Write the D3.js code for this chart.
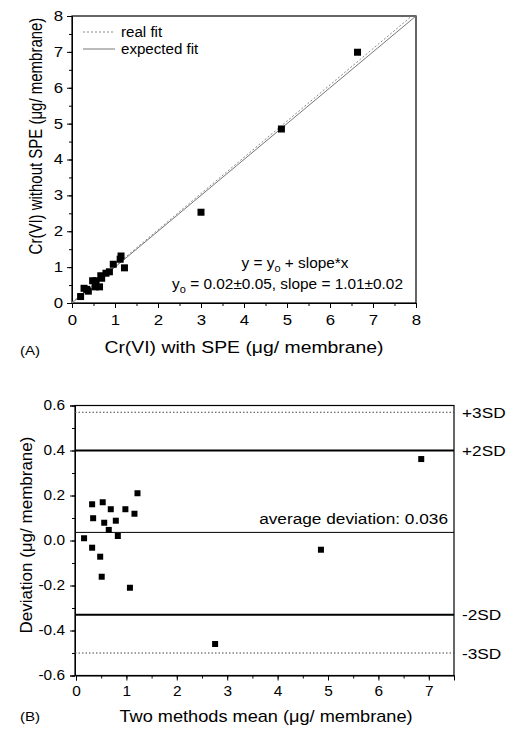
<!DOCTYPE html>
<html><head><meta charset="utf-8">
<script src="https://cdn.jsdelivr.net/npm/d3@7"></script>
<style>body{margin:0;background:#fff}svg{display:block;font-family:"Liberation Sans",Arial,sans-serif}</style>
</head><body>
<script>
// Panel A data
const topX = [0.20,0.28,0.34,0.38,0.48,0.56,0.54,0.64,0.67,0.69,0.79,0.87,0.96,1.14,1.12,1.22,3.00,4.87,6.64];
const topY = [0.18,0.41,0.38,0.33,0.62,0.62,0.45,0.45,0.76,0.69,0.83,0.87,1.08,1.31,1.22,0.98,2.53,4.85,6.99];
const topTicks = [0,1,2,3,4,5,6,7,8];
const fitIntercept = 0.02, fitSlope = 1.01;
// Panel B data
const botX = [0.16,0.32,0.48,0.51,1.07,0.32,0.34,0.53,0.56,0.69,0.65,0.79,0.83,0.98,1.16,1.22,2.76,4.86,6.85];
const botY = [0.01,-0.032,-0.072,-0.161,-0.21,0.161,0.099,0.17,0.079,0.139,0.047,0.088,0.02,0.139,0.119,0.21,-0.46,-0.041,0.362];
const botXTicks = [0,1,2,3,4,5,6,7];
const botYTicks = [-0.6,-0.4,-0.2,0.0,0.2,0.4,0.6];
const refValues = [0.57,0.40,0.036,-0.33,-0.50];
const refLabels = ["+3SD","+2SD","","-2SD","-3SD"];
const refStyles = ["dot","thick","thin","thick","dot"];

const SX = 1.15;
const svg = d3.select("body").append("svg").attr("width",510).attr("height",738);

function minorTicks(lo,hi,step){const a=[];for(let v=lo;v<=hi+1e-9;v+=step)a.push(+v.toFixed(4));return a;}
function label(parent,x,y,size,anchor,rot,sx){
  const g = parent.append("g").attr("transform",`translate(${x},${y}) scale(${sx||SX},1)`+(rot?` rotate(${rot})`:""));
  return g.append("text").attr("font-size",size).attr("text-anchor",anchor||"start").attr("fill","#000");
}
function stretchTicks(ax,sx){
  ax.selectAll(".tick text").each(function(){
    const t=d3.select(this);
    const x=+t.attr("x")||0;
    t.attr("transform",`scale(${sx},1)`).attr("x",x/sx);
  });
}

// ---------- Panel A ----------
const xA = d3.scaleLinear().domain([0,8]).range([72,416]);
const yA = d3.scaleLinear().domain([0,8]).range([303,16]);
const gA = svg.append("g");
gA.append("g").attr("transform","translate(0,303)")
  .call(d3.axisBottom(xA).tickValues(minorTicks(0,8,0.5)).tickSize(3).tickFormat(""))
  .call(g=>g.select(".domain").remove());
gA.append("g").attr("transform","translate(72,0)")
  .call(d3.axisLeft(yA).tickValues(minorTicks(0,8,0.5)).tickSize(3).tickFormat(""))
  .call(g=>g.select(".domain").remove());
const axA_x = gA.append("g").attr("transform","translate(0,303)")
  .call(d3.axisBottom(xA).tickValues(topTicks).tickSize(5).tickPadding(7).tickFormat(d3.format("d")));
const axA_y = gA.append("g").attr("transform","translate(72,0)")
  .call(d3.axisLeft(yA).tickValues(topTicks).tickSize(5).tickPadding(4).tickFormat(d3.format("d")));
[axA_x,axA_y].forEach(a=>{a.selectAll("text").attr("font-size",14).attr("fill","#000");stretchTicks(a,1.2);});
gA.append("rect").attr("x",72).attr("y",16).attr("width",416-72).attr("height",303-16)
  .attr("fill","none").attr("stroke","#000").attr("stroke-width",1.2);
gA.append("line").attr("x1",xA(0)).attr("y1",yA(0)).attr("x2",xA(8)).attr("y2",yA(8))
  .attr("stroke","#777").attr("stroke-width",1);
const xEnd = (8-fitIntercept)/fitSlope;
gA.append("line").attr("x1",xA(0)).attr("y1",yA(fitIntercept)).attr("x2",xA(xEnd)).attr("y2",yA(8))
  .attr("stroke","#888").attr("stroke-width",1).attr("stroke-dasharray","2,2");
gA.selectAll("rect.pt").data(topX.map((x,i)=>[x,topY[i]])).join("rect").attr("class","pt")
  .attr("x",d=>xA(d[0])-3.5).attr("y",d=>yA(d[1])-3.5).attr("width",7).attr("height",7).attr("fill","#000");
// legend
gA.append("line").attr("x1",83).attr("x2",115).attr("y1",32).attr("y2",32).attr("stroke","#888").attr("stroke-dasharray","2,2");
label(gA,121,37,14,"start",0,1.08).text("real fit");
gA.append("line").attr("x1",83).attr("x2",115).attr("y1",49).attr("y2",49).attr("stroke","#777");
label(gA,121,54,14,"start",0,1.08).text("expected fit");
// equation
const eq1 = label(gA,295,268,14,"middle",0,1.1);
eq1.append("tspan").text("y = y");
eq1.append("tspan").attr("font-size",10).attr("dy",4).text("o");
eq1.append("tspan").attr("dy",-4).text(" + slope*x");
const eq2 = label(gA,403,289,14,"end",0,1.1);
eq2.append("tspan").text("y");
eq2.append("tspan").attr("font-size",10).attr("dy",4).text("o");
eq2.append("tspan").attr("dy",-4).text(" = 0.02±0.05, slope = 1.01±0.02");
// titles
label(gA,42,136,15,"middle",-90,1.2).text("Cr(VI) without SPE (μg/ membrane)");
label(gA,244,353,17,"middle",0,1.14).text("Cr(VI) with SPE (μg/ membrane)");
label(gA,20,355,13.5,"start",0,1.12).text("(A)");

// ---------- Panel B ----------
const xB = d3.scaleLinear().domain([0,7.5]).range([76,454]);
const yB = d3.scaleLinear().domain([-0.6,0.6]).range([675.5,405.5]);
const gB = svg.append("g");
gB.append("g").attr("transform","translate(0,675.5)")
  .call(d3.axisBottom(xB).tickValues(minorTicks(0,7.5,0.5)).tickSize(3).tickFormat(""))
  .call(g=>g.select(".domain").remove());
gB.append("g").attr("transform","translate(75,0)")
  .call(d3.axisLeft(yB).tickValues(minorTicks(-0.6,0.6,0.1)).tickSize(3).tickFormat(""))
  .call(g=>g.select(".domain").remove());
const axB_x = gB.append("g").attr("transform","translate(0,675.5)")
  .call(d3.axisBottom(xB).tickValues(botXTicks).tickSize(5).tickPadding(6).tickFormat(d3.format("d")));
const axB_y = gB.append("g").attr("transform","translate(75,0)")
  .call(d3.axisLeft(yB).tickValues(botYTicks).tickSize(5).tickPadding(5).tickFormat(d=>d3.format(".1f")(d).replace("−","-")));
[axB_x,axB_y].forEach(a=>{a.selectAll("text").attr("font-size",14).attr("fill","#000");stretchTicks(a,1.1);});
gB.append("rect").attr("x",75).attr("y",405.5).attr("width",454-75).attr("height",675.5-405.5)
  .attr("fill","none").attr("stroke","#000").attr("stroke-width",1.2);
refValues.forEach((v,i)=>{
  const s = refStyles[i];
  const ln = gB.append("line").attr("x1",75).attr("x2",454).attr("y1",yB(v)).attr("y2",yB(v)).attr("stroke","#000");
  if(s==="dot") ln.attr("stroke","#444").attr("stroke-width",1).attr("stroke-dasharray","1.5,2");
  else if(s==="thick") ln.attr("stroke-width",2);
  else ln.attr("stroke-width",1);
  if(refLabels[i]) label(gB,462,yB(v)+5.5,15).text(refLabels[i]);
});
label(gB,448,yB(refValues[2])-8,15,"end").text("average deviation: "+refValues[2]);
gB.selectAll("rect.pt").data(botX.map((x,i)=>[x,botY[i]])).join("rect").attr("class","pt")
  .attr("x",d=>xB(d[0])-3).attr("y",d=>yB(d[1])-3).attr("width",6).attr("height",6).attr("fill","#000");
label(gB,32,535,17,"middle",-90,1.0).text("Deviation (μg/ membrane)");
label(gB,266,722,15.8,"middle").text("Two methods mean (μg/ membrane)");
label(gB,20,721,13.5,"start",0,1.12).text("(B)");
</script>
</body></html>
